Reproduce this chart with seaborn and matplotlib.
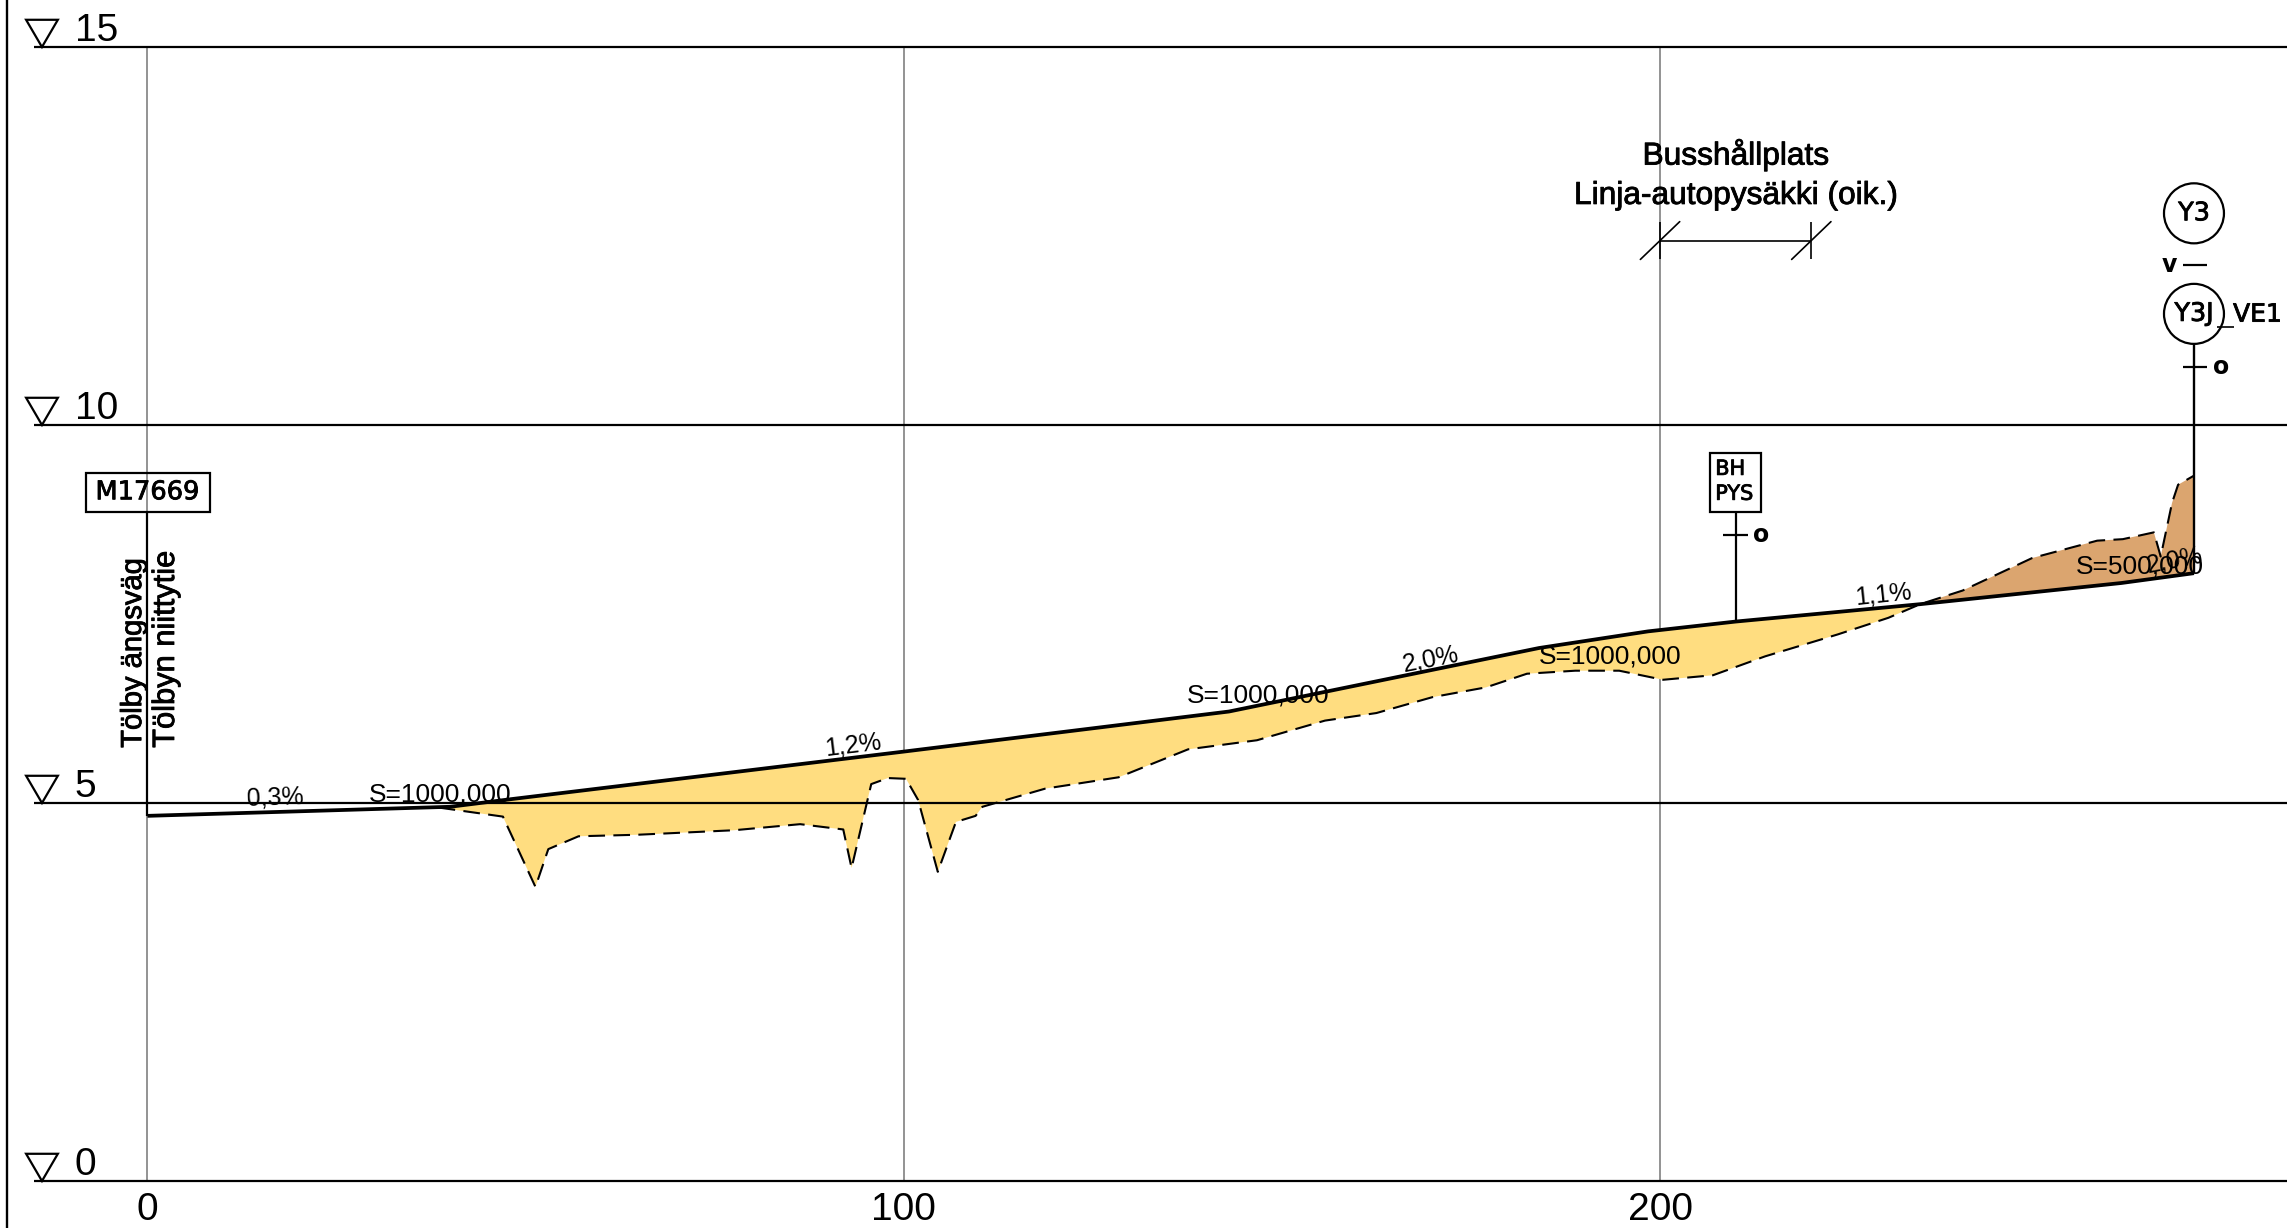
import seaborn as sns
import matplotlib.pyplot as plt
import matplotlib.patheffects as pe
from matplotlib.patches import Ellipse, Polygon, Rectangle

# road profile, station (m) and elevation (m)
road_x = [0, 40, 48, 100, 143, 184, 198.4, 210, 234.4, 261, 270.6]
road_y = [4.83, 4.95, 5.05, 5.68, 6.21, 7.05, 7.27, 7.40, 7.63, 7.91, 8.04]

# existing ground, fill part then cut part
fill_x = [38.5, 47, 51.3, 53, 57, 64.8, 77.6, 86.3, 92, 93.1, 95.7, 97.9, 100.3, 101.9, 104.5,
          106.9, 109.5, 110.4, 118.7, 128.4, 137.6, 146.7, 155.7, 162.5, 169.9, 177, 182.4,
          188.8, 194.6, 200.4, 207, 213.9, 223.5, 230.2, 234.4]
fill_y = [4.94, 4.82, 3.89, 4.39, 4.56, 4.58, 4.64, 4.72, 4.65, 4.14, 5.25, 5.33, 5.32, 5.04, 4.09,
          4.75, 4.83, 4.95, 5.19, 5.34, 5.71, 5.83, 6.09, 6.19, 6.40, 6.53, 6.71,
          6.75, 6.75, 6.63, 6.69, 6.94, 7.23, 7.45, 7.63]
cut_x = [234.4, 240, 249.2, 257.8, 261.2, 265.3, 266.2, 267.7, 268.5, 270.6]
cut_y = [7.63, 7.81, 8.24, 8.47, 8.49, 8.58, 8.26, 8.97, 9.21, 9.33]

levels = [0, 5, 10, 15]
stations = [0, 100, 200]

# label, station, elevation, rotation
profile_labels = [
    ("0,3%", 16.9, 5.07, 2),
    ("S=1000,000", 38.7, 5.11, 0),
    ("1,2%", 93.3, 5.77, 7),
    ("S=1000,000", 146.9, 6.42, 0),
    ("2,0%", 169.7, 6.90, 11),
    ("S=1000,000", 193.4, 6.94, 0),
    ("1,1%", 229.5, 7.76, 6),
    ("S=500,000", 263.4, 8.13, 0),
    ("2,0%", 268.1, 8.21, 11),
]

sns.set_style("white")
plt.rcParams["font.family"] = ["Liberation Sans", "DejaVu Sans"]
plt.rcParams["text.color"] = "black"
plt.rcParams["xtick.labelcolor"] = "black"

fig = plt.figure(figsize=(22.87, 12.28), dpi=100)
ax = fig.add_axes([0, 47 / 1228, 1, 1134 / 1228])

ax.fill(fill_x + road_x[8::-1], fill_y + road_y[8::-1], color="#FFDD80", lw=0, zorder=1)
ax.fill(cut_x + road_x[:7:-1], cut_y + road_y[:7:-1], color="#DBA56F", lw=0, zorder=1)

ax.hlines(levels, -15, 283, color="black", lw=1.6, zorder=2, clip_on=False)
ax.vlines(-18.6, -0.62, 15.62, color="black", lw=1.7, clip_on=False)

sns.lineplot(x=road_x, y=road_y, sort=False, estimator=None, ax=ax, color="black", lw=2.7, zorder=4,
             solid_capstyle="butt")
sns.lineplot(x=fill_x + cut_x[1:], y=fill_y + cut_y[1:], sort=False, estimator=None, ax=ax,
             color="black", lw=1.5, linestyle=(0, (8, 4)), zorder=3)

ax.set_xlim(-19.5, 282.9)
ax.set_ylim(0, 15)
ax.set_xticks(stations)
ax.set_yticks([])
ax.grid(axis="x", color="#808080", lw=1.2)
ax.set_axisbelow(True)
ax.tick_params(axis="x", length=0, pad=8, labelsize=28)
sns.despine(ax=ax, left=True, bottom=True)

# level marks
for level in levels:
    ax.add_patch(Polygon([(-16.05, level + 0.36), (-11.85, level + 0.36), (-13.95, level)],
                         fill=False, ec="black", lw=1.6, clip_on=False))
    ax.text(-9.6, level + 0.08, str(level), fontsize=28, va="baseline", clip_on=False)

for label, x, y, rot in profile_labels:
    ax.text(x, y, label, fontsize=19 if label[0] == "S" else 18, ha="center", va="center",
            rotation=rot, rotation_mode="anchor", zorder=5)

bold = [pe.withStroke(linewidth=0.6, foreground="black")]

# start of the road
ax.vlines(0, 4.83, 8.85, color="black", lw=1.6)
ax.add_patch(Rectangle((-8.17, 8.85), 16.43, 0.52, fill=False, ec="black", lw=1.6))
ax.text(0, 9.11, "M17669", family="DejaVu Sans", fontsize=18.5, ha="center", va="center", path_effects=bold)
ax.text(-1.9, 5.73, "Tölby ängsväg", fontsize=21, rotation=90, ha="center", va="bottom", path_effects=bold)
ax.text(2.45, 5.73, "Tölbyn niittytie", fontsize=22.2, rotation=90, ha="center", va="bottom", path_effects=bold)

# bus stop
ax.text(210, 13.57, "Busshållplats", fontsize=22.8, ha="center", va="center", path_effects=bold)
ax.text(210, 13.03, "Linja-autopysäkki (oik.)", fontsize=22.8, ha="center", va="center", path_effects=bold)
ax.hlines(12.44, 200, 220, color="black", lw=1.2)
for x in [200, 220]:
    ax.vlines(x, 12.2, 12.68, color="black", lw=1.2)
    ax.plot([x - 2.6, x + 2.6], [12.19, 12.69], color="black", lw=1.2)
ax.vlines(210, 7.40, 8.85, color="black", lw=1.6)
ax.hlines(8.54, 208.3, 211.6, color="black", lw=1.6)
ax.add_patch(Rectangle((206.6, 8.85), 6.7, 0.78, fill=False, ec="black", lw=1.6))
ax.text(207.3, 9.42, "BH", family="DejaVu Sans", fontsize=15, va="center", path_effects=bold)
ax.text(207.3, 9.09, "PYS", family="DejaVu Sans", fontsize=15, va="center", path_effects=bold)
ax.text(213.4, 8.54, "o", family="DejaVu Sans", fontsize=17, fontweight="bold", va="center", ha="center")

# signs at the end
for y, label in [(12.80, "Y3"), (11.47, "Y3J")]:
    ax.add_patch(Ellipse((270.6, y), 7.93, 0.794, fill=False, ec="black", lw=1.6))
    ax.text(270.6, y, label, family="DejaVu Sans", fontsize=18.3, ha="center", va="center", path_effects=bold)
ax.vlines(270.6, 8.04, 11.07, color="black", lw=1.7)
ax.hlines(10.77, 269.15, 272.35, color="black", lw=1.6)
ax.text(274.2, 10.77, "o", family="DejaVu Sans", fontsize=17, fontweight="bold", va="center", ha="center")
ax.hlines(12.11, 269.15, 272.3, color="black", lw=1.6)
ax.text(267.3, 12.11, "v", family="DejaVu Sans", fontsize=17, fontweight="bold", va="center", ha="center")
ax.hlines(11.30, 273.6, 275.9, color="black", lw=1.2)
ax.text(279, 11.46, "VE1", family="DejaVu Sans", fontsize=18, va="center", ha="center", path_effects=bold)

fig.savefig("out.png", dpi=100)
